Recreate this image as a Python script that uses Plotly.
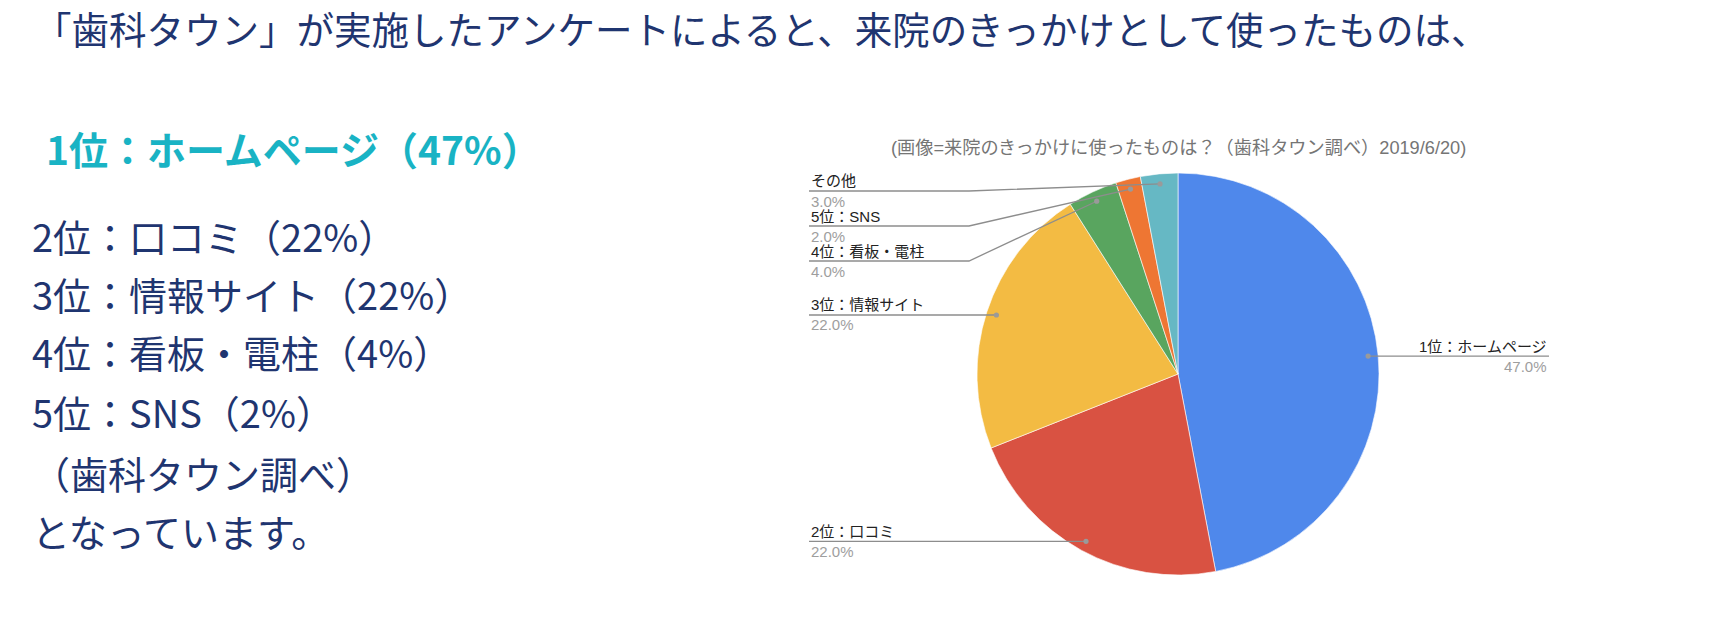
import math
import plotly.graph_objects as go

W, H = 1714, 642

# ---- data ----
labels = ["1位：ホームページ", "2位：口コミ", "3位：情報サイト", "4位：看板・電柱", "5位：SNS", "その他"]
values = [47.0, 22.0, 22.0, 4.0, 2.0, 3.0]
colors = ["#4f88eb", "#d95242", "#f3bb43", "#59a55f", "#ee7633", "#66b8c4"]

headline = "「歯科タウン」が実施したアンケートによると、来院のきっかけとして使ったものは、"
top_item = "1位：ホームページ（47%）"
list_items = ["2位：口コミ（22%）", "3位：情報サイト（22%）", "4位：看板・電柱（4%）",
              "5位：SNS（2%）", "（歯科タウン調べ）", "となっています。"]
chart_title = "(画像=来院のきっかけに使ったものは？（歯科タウン調べ）2019/6/20)"

# ---- layout constants (pixels) ----
CX, CY, R = 1178, 374, 201
DOT_R = 0.95 * R
label_side = ["right", "left", "left", "left", "left", "left"]
label_line_y = [None, None, None, 261, 226, 191]   # None -> level with dot
LEFT_X, RIGHT_X, ELBOW_X = 809, 1549, 969

def px(x):
    return x / W

def py(y):
    return 1 - y / H

fig = go.Figure()
fig.add_trace(go.Pie(
    labels=labels, values=values, sort=False, direction="clockwise", rotation=0,
    marker=dict(colors=colors, line=dict(color="white", width=0.6)),
    textinfo="none", hoverinfo="skip", showlegend=False,
    domain=dict(x=[px(CX - R), px(CX + R)], y=[py(CY + R), py(CY - R)]),
))

shapes = []
annotations = []
LBL_FONT = "Arial, Liberation Sans, Noto Sans CJK JP"

# leader lines + labels computed from slice angles
total = sum(values)
cum = 0.0
for i, (lab, v) in enumerate(zip(labels, values)):
    mid = (cum + v / 2) / total * 2 * math.pi
    cum += v
    dx, dy = CX + DOT_R * math.sin(mid), CY - DOT_R * math.cos(mid)
    ly = label_line_y[i] if label_line_y[i] is not None else dy
    if label_side[i] == "right":
        path = f"M {px(dx)} {py(dy)} L {px(dx)} {py(ly)} L {px(RIGHT_X)} {py(ly)}"
        tx, anchor = RIGHT_X, "right"
    else:
        ex = min(ELBOW_X, dx)
        path = f"M {px(LEFT_X)} {py(ly)} L {px(ex)} {py(ly)} L {px(dx)} {py(dy)}"
        tx, anchor = LEFT_X, "left"
    shapes.append(dict(type="path", xref="paper", yref="paper", path=path,
                       line=dict(color="#8d8d8d", width=1.3)))
    shapes.append(dict(type="circle", xref="paper", yref="paper",
                       x0=px(dx - 2.6), x1=px(dx + 2.6), y0=py(dy + 2.6), y1=py(dy - 2.6),
                       fillcolor="#9a9a9a", line=dict(width=0)))
    annotations.append(dict(x=px(tx), y=py(ly - 10), xref="paper", yref="paper",
                            xanchor=anchor, yanchor="middle", showarrow=False, text=lab,
                            font=dict(family=LBL_FONT, size=15, color="#222222")))
    annotations.append(dict(x=px(tx), y=py(ly + 10), xref="paper", yref="paper",
                            xanchor=anchor, yanchor="middle", showarrow=False,
                            text=f"{v / total * 100:.1f}%",
                            font=dict(family=LBL_FONT, size=15, color="#9e9e9e")))

# chart title
annotations.append(dict(x=px(CX), y=py(148), xref="paper", yref="paper", xanchor="center",
                        yanchor="middle", showarrow=False, text=chart_title,
                        font=dict(family=LBL_FONT, size=18.2, color="#757575")))

# left-hand text
JP = "Noto Sans CJK JP"
NAVY = "#1f3570"
annotations.append(dict(x=px(32), y=py(27.5), xref="paper", yref="paper", xanchor="left",
                        yanchor="middle", showarrow=False, text=headline,
                        font=dict(family=JP, size=37.5, color=NAVY)))
annotations.append(dict(x=px(44), y=py(148), xref="paper", yref="paper", xanchor="left",
                        yanchor="middle", showarrow=False, text=f"<b>{top_item}</b>",
                        font=dict(family=JP, size=39, color="#19b3c4")))
list_y = [235, 293, 352, 411, 472, 530]
for t, yy in zip(list_items, list_y):
    annotations.append(dict(x=px(30), y=py(yy), xref="paper", yref="paper", xanchor="left",
                            yanchor="middle", showarrow=False, text=t,
                            font=dict(family=JP, size=38, color=NAVY)))

fig.update_layout(width=W, height=H, margin=dict(l=0, r=0, t=0, b=0),
                  paper_bgcolor="white", plot_bgcolor="white",
                  shapes=shapes, annotations=annotations)
fig.write_html("out.html", config={"displayModeBar": False},
               post_script="document.body.style.margin='0';document.body.style.overflow='hidden';")
